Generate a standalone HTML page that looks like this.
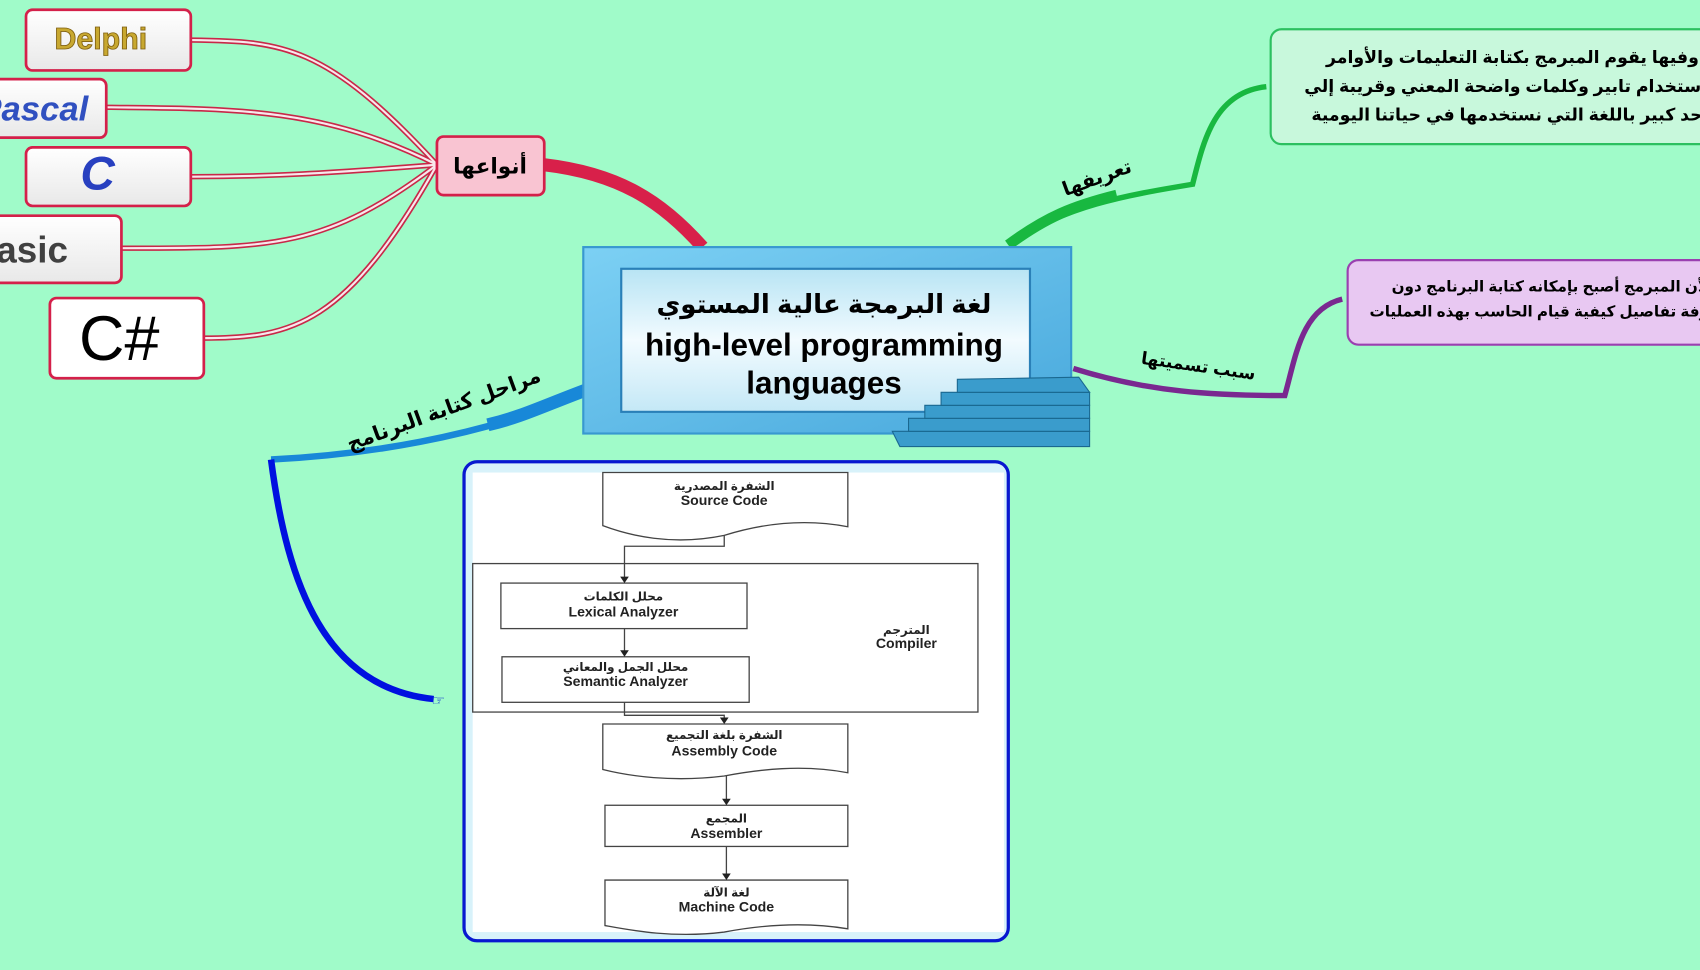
<!DOCTYPE html>
<html><head><meta charset="utf-8"><style>
html,body{margin:0;padding:0;background:#a0fbc9;overflow:hidden}
svg{display:block}
text{font-family:"Liberation Sans","DejaVu Sans",sans-serif}
</style></head><body>
<svg width="1700" height="970" viewBox="0 0 1568 895" preserveAspectRatio="none" xmlns="http://www.w3.org/2000/svg">
<defs>
<linearGradient id="inner" x1="0" y1="0" x2="0" y2="1"><stop offset="0" stop-color="#b8e4f4"/><stop offset="0.5" stop-color="#f2fbff"/><stop offset="1" stop-color="#c4e8f6"/></linearGradient>
<linearGradient id="frame" x1="0" y1="0" x2="1" y2="1"><stop offset="0" stop-color="#7cd0f4"/><stop offset="1" stop-color="#48a8dc"/></linearGradient>
<linearGradient id="lbox" x1="0" y1="0" x2="0" y2="1"><stop offset="0" stop-color="#ffffff"/><stop offset="1" stop-color="#e8e8e8"/></linearGradient>
</defs>
<rect width="1568" height="895" fill="#a0fbc9"/>

<g fill="none" stroke="#c82848" stroke-width="5">
<path d="M403 152 C300 40 260 38 176 37"/>
<path d="M403 152 C300 100 220 100 98 99"/>
<path d="M403 152 C300 160 250 163 176 163"/>
<path d="M403 152 C300 230 250 229 112 229"/>
<path d="M403 152 C320 300 270 312 188 312"/>
</g>
<g fill="none" stroke="#f8e8ec" stroke-width="2">
<path d="M403 152 C300 40 260 38 176 37"/>
<path d="M403 152 C300 100 220 100 98 99"/>
<path d="M403 152 C300 160 250 163 176 163"/>
<path d="M403 152 C300 230 250 229 112 229"/>
<path d="M403 152 C320 300 270 312 188 312"/>
</g>

<rect x="24" y="9" width="152" height="56" rx="6" fill="url(#lbox)" stroke="#d4204a" stroke-width="2.5"/>
<text x="93" y="45" font-size="28" font-weight="bold" fill="#c8a830" text-anchor="middle" stroke="#806010" stroke-width="0.8">Delphi</text>
<rect x="-10" y="73" width="108" height="54" rx="6" fill="url(#lbox)" stroke="#d4204a" stroke-width="2.5"/>
<text x="-20" y="111" font-size="32" font-weight="bold" fill="#3050c0" font-style="italic">Pascal</text>
<rect x="24" y="136" width="152" height="54" rx="6" fill="url(#lbox)" stroke="#d4204a" stroke-width="2.5"/>
<text x="90" y="175" font-size="44" font-weight="bold" fill="#2840c0" text-anchor="middle" font-style="italic">C</text>
<rect x="-10" y="199" width="122" height="62" rx="6" fill="url(#lbox)" stroke="#d4204a" stroke-width="2.5"/>
<text x="-28" y="242" font-size="34" font-weight="bold" fill="#404040">Basic</text>
<rect x="46" y="275" width="142" height="74" rx="6" fill="#fff" stroke="#d4204a" stroke-width="2.5"/>
<text x="110" y="332" font-size="58" fill="#000" text-anchor="middle">C#</text>

<path d="M502 152 C570 160 610 185 648 228" fill="none" stroke="#d8204a" stroke-width="12"/>
<rect x="403" y="126" width="99" height="54" rx="6" fill="#f9c4d2" stroke="#d4204a" stroke-width="2.5"/>
<text x="452" y="160" font-size="20" font-weight="bold" text-anchor="middle" fill="#000">أنواعها</text>

<path d="M930 226 C980 190 1040 180 1100 170 C1110 130 1120 85 1168 80" fill="none" stroke="#18b840" stroke-width="5"/>
<path d="M930 226 C965 200 990 190 1030 180" fill="none" stroke="#18b840" stroke-width="10"/>
<text x="1012" y="170" font-size="18" font-weight="bold" fill="#000" text-anchor="middle" transform="rotate(-20 1012 165)">تعريفها</text>
<rect x="1172" y="27" width="420" height="106" rx="10" fill="#c8f8dc" stroke="#2cc060" stroke-width="2"/>
<g font-size="16" font-weight="bold" fill="#000" text-anchor="middle">
<text x="1395" y="58">وفيها يقوم المبرمج بكتابة التعليمات والأوامر</text>
<text x="1392" y="85">باستخدام تابير وكلمات واضحة المعني وقريبة إلي</text>
<text x="1390" y="111">حد كبير باللغة التي نستخدمها في حياتنا اليومية</text>
</g>

<path d="M990 340 C1060 362 1120 365 1185 365 C1195 330 1200 285 1238 276" fill="none" stroke="#7a2890" stroke-width="5"/>
<text x="1105" y="343" font-size="16" font-weight="bold" fill="#000" text-anchor="middle" transform="rotate(8 1105 340)">سبب تسميتها</text>
<rect x="1243" y="240" width="360" height="78" rx="10" fill="#e8c8f2" stroke="#9a40b0" stroke-width="2"/>
<g font-size="14" font-weight="bold" fill="#000" text-anchor="middle">
<text x="1430" y="269">لأن المبرمج أصبح بإمكانه كتابة البرنامج دون</text>
<text x="1428" y="292">معرفة تفاصيل كيفية قيام الحاسب بهذه العمليات</text>
</g>

<path d="M540 362 C440 405 330 420 250 424" fill="none" stroke="#1888d8" stroke-width="6"/>
<path d="M540 360 C500 375 480 385 450 392" fill="none" stroke="#1888d8" stroke-width="12"/>
<text x="410" y="384" font-size="19" font-weight="bold" fill="#000" text-anchor="middle" transform="rotate(-20 410 380)">مراحل كتابة البرنامج</text>
<path d="M250 424 C265 540 300 635 400 645" fill="none" stroke="#0010e0" stroke-width="6"/>
<text x="398" y="651" font-size="14" fill="#1030d0">☞</text>

<rect x="538" y="228" width="450" height="172" fill="url(#frame)" stroke="#3898d0" stroke-width="2"/>
<rect x="573" y="248" width="377" height="132" fill="url(#inner)" stroke="#2a80b8" stroke-width="2"/>
<text x="760" y="289" font-size="24" font-weight="bold" fill="#000" text-anchor="middle">لغة البرمجة عالية المستوي</text>
<text x="760" y="328" font-size="29" font-weight="bold" fill="#000" text-anchor="middle">high-level programming</text>
<text x="760" y="363" font-size="29" font-weight="bold" fill="#000" text-anchor="middle">languages</text>
<g fill="#3a9ccc" stroke="#1a6890" stroke-width="1">
<polygon points="823,398 1005,398 1005,412 830,412"/>
<polygon points="838,386 1005,386 1005,398 838,398"/>
<polygon points="853,374 1005,374 1005,386 853,386"/>
<polygon points="868,362 1005,362 1005,374 868,374"/>
<polygon points="883,350 995,348 1005,362 883,362"/>
</g>

<rect x="428" y="426" width="502" height="442" rx="12" fill="#d8f2fa" stroke="#0818d0" stroke-width="3"/>
<rect x="436" y="436" width="490" height="424" fill="#fff"/>
<g fill="#fff" stroke="#444" stroke-width="1.2">
<path d="M556 436 H782 V486 C740 478 700 484 668 494 C620 504 580 494 556 485 Z"/>
<rect x="436" y="520" width="466" height="137" fill="none"/>
<rect x="462" y="538" width="227" height="42"/>
<rect x="463" y="606" width="228" height="42"/>
<path d="M556 668 H782 V713 C740 705 700 710 668 716 C620 722 580 716 556 710 Z"/>
<rect x="558" y="743" width="224" height="38"/>
<path d="M558 812 H782 V857 C740 850 700 854 668 860 C620 866 580 858 558 854 Z"/>
</g>
<g fill="none" stroke="#444" stroke-width="1.2">
<path d="M668 494 V504 H576 V534"/>
<path d="M576 580 V602"/>
<path d="M576 648 V660 H668 V664"/>
<path d="M670 716 V739"/>
<path d="M670 781 V808"/>
</g>
<g fill="#222">
<polygon points="572,532 580,532 576,538"/>
<polygon points="572,600 580,600 576,606"/>
<polygon points="664,662 672,662 668,668"/>
<polygon points="666,737 674,737 670,743"/>
<polygon points="666,806 674,806 670,812"/>
</g>
<g font-weight="bold" fill="#222" text-anchor="middle">
<text x="668" y="452" font-size="11">الشفرة المصدرية</text>
<text x="668" y="466" font-size="13">Source Code</text>
<text x="575" y="554" font-size="11">محلل الكلمات</text>
<text x="575" y="569" font-size="13">Lexical Analyzer</text>
<text x="577" y="619" font-size="11">محلل الجمل والمعاني</text>
<text x="577" y="633" font-size="13">Semantic Analyzer</text>
<text x="836" y="585" font-size="11">المترجم</text>
<text x="836" y="598" font-size="13">Compiler</text>
<text x="668" y="682" font-size="11">الشفرة بلغة التجميع</text>
<text x="668" y="697" font-size="13">Assembly Code</text>
<text x="670" y="759" font-size="11">المجمع</text>
<text x="670" y="773" font-size="13">Assembler</text>
<text x="670" y="827" font-size="11">لغة الآلة</text>
<text x="670" y="841" font-size="13">Machine Code</text>
</g>
</svg>
</body></html>
